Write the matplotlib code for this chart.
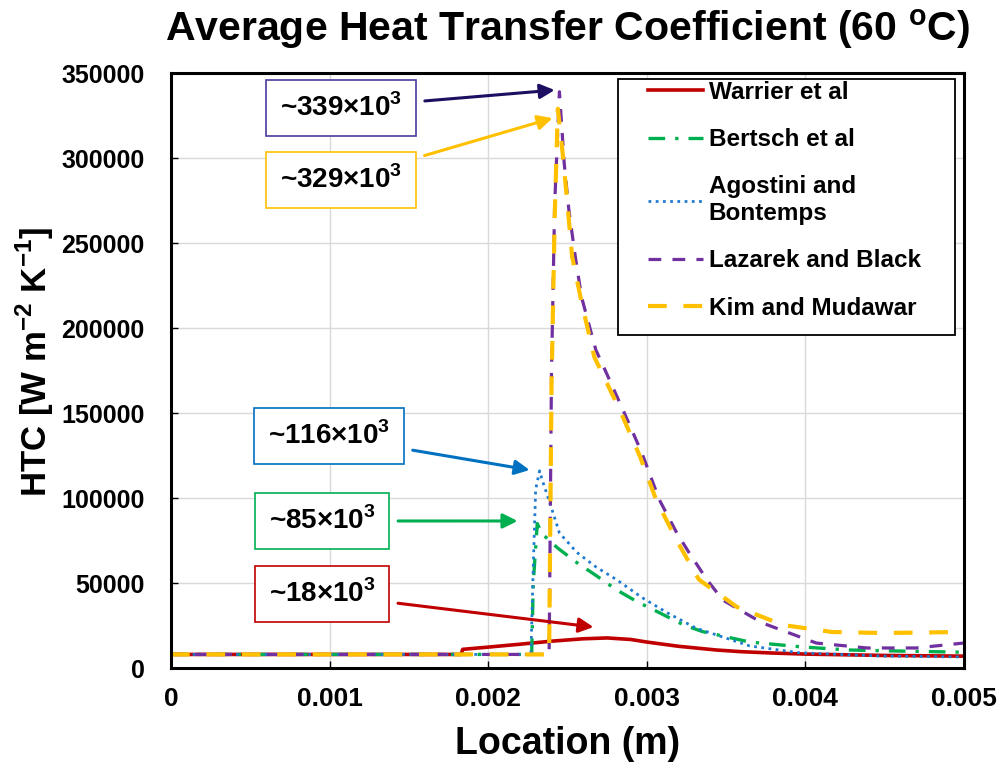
import matplotlib
matplotlib.use('Agg')
import matplotlib.pyplot as plt
from matplotlib.patches import Rectangle

plt.rcParams['font.family'] = ['Liberation Sans', 'DejaVu Sans']
plt.rcParams['font.weight'] = 'bold'
plt.rcParams['axes.labelweight'] = 'bold'
plt.rcParams['mathtext.fontset'] = 'custom'
plt.rcParams['mathtext.rm'] = 'Liberation Sans:bold'
plt.rcParams['mathtext.bf'] = 'Liberation Sans:bold'

# data (location in m, HTC in W m-2 K-1)
warrier_x = [0, 1.83e-3, 1.84e-3, 2.0e-3, 2.2e-3, 2.4e-3, 2.6e-3, 2.75e-3, 2.9e-3,
             3.0e-3, 3.2e-3, 3.44e-3, 3.6e-3, 3.8e-3, 4.0e-3, 4.5e-3, 5.0e-3]
warrier_y = [8000, 8000, 11000, 12300, 14000, 15800, 17200, 17700, 16800,
             15300, 12800, 10600, 9600, 8800, 8200, 7400, 7000]

bertsch_x = [0, 2.275e-3, 2.285e-3, 2.31e-3, 2.34e-3, 2.44e-3, 2.56e-3, 2.68e-3, 2.81e-3,
             2.94e-3, 3.06e-3, 3.23e-3, 3.35e-3, 3.65e-3, 3.98e-3, 4.28e-3, 4.59e-3, 5.0e-3]
bertsch_y = [8000, 8000, 50000, 85000, 79000, 70500, 62000, 54500, 46000,
             39000, 33500, 25500, 21500, 15300, 12400, 10600, 10000, 9300]

agostini_x = [0, 2.27e-3, 2.285e-3, 2.30e-3, 2.325e-3, 2.34e-3, 2.39e-3, 2.45e-3, 2.56e-3,
              2.68e-3, 2.81e-3, 2.97e-3, 3.13e-3, 3.31e-3, 3.65e-3, 3.96e-3, 4.49e-3, 5.0e-3]
agostini_y = [8000, 8000, 60000, 105000, 116000, 111000, 97000, 79500, 68000,
              59500, 52000, 41500, 32500, 23500, 13000, 9000, 7000, 6500]

lazarek_x = [0, 2.385e-3, 2.40e-3, 2.42e-3, 2.45e-3, 2.48e-3, 2.51e-3, 2.55e-3, 2.59e-3,
             2.68e-3, 2.72e-3, 2.85e-3, 2.97e-3, 3.08e-3, 3.19e-3, 3.27e-3, 3.38e-3,
             3.48e-3, 3.73e-3, 4.07e-3, 4.39e-3, 4.70e-3, 5.0e-3]
lazarek_y = [8000, 8000, 175000, 273000, 339000, 297000, 269000, 242000, 218000,
             187000, 179000, 152000, 126500, 99000, 79500, 67500, 52000,
             40000, 26500, 14700, 11800, 11800, 14700]

kim_x = [0, 2.385e-3, 2.40e-3, 2.42e-3, 2.44e-3, 2.47e-3, 2.50e-3, 2.53e-3, 2.59e-3,
         2.67e-3, 2.83e-3, 2.96e-3, 3.06e-3, 3.19e-3, 3.33e-3, 3.57e-3, 3.86e-3,
         4.17e-3, 4.49e-3, 5.0e-3]
kim_y = [8000, 8000, 165000, 265000, 329000, 303000, 273500, 242000, 215000,
         183000, 152000, 124000, 99000, 75000, 52000, 35900, 25300,
         21200, 20600, 21200]

labels = ['Warrier et al', 'Bertsch et al', 'Agostini and\nBontemps',
          'Lazarek and Black', 'Kim and Mudawar']

# peak callouts: text, point, box centre (figure fraction), box colour, arrow colour
callouts = [
    ('~339×10$^{\\mathbf{3}}$', (2.42e-3, 340000), (0.3397, 0.8596), '#4B3A9E', '#1E0E62'),
    ('~329×10$^{\\mathbf{3}}$', (2.407e-3, 323500), (0.3397, 0.766), '#FFC000', '#FFC000'),
    ('~116×10$^{\\mathbf{3}}$', (2.262e-3, 116500), (0.3277, 0.433), '#0070C0', '#0070C0'),
    ('~85×10$^{\\mathbf{3}}$', (2.186e-3, 86500), (0.3207, 0.3225), '#00B050', '#00B050'),
    ('~18×10$^{\\mathbf{3}}$', (2.665e-3, 24100), (0.3207, 0.2276), '#C00000', '#C00000'),
]

fig = plt.figure(figsize=(10.04, 7.69), dpi=100)
ax = fig.add_axes([0.1703, 0.1313, 0.7896, 0.7737])

ax.plot(warrier_x, warrier_y, color='#C00000', lw=2.6, label=labels[0])
ax.plot(bertsch_x, bertsch_y, color='#00B050', lw=2.4, ls=(0, (5, 3, 1, 3)), label=labels[1])
ax.plot(agostini_x, agostini_y, color='#1F7BD0', lw=2.0, ls=(0, (1, 1.6)), label=labels[2])
ax.plot(lazarek_x, lazarek_y, color='#7030A0', lw=2.3, ls=(0, (4, 3.5)), label=labels[3])
ax.plot(kim_x, kim_y, color='#FFC000', lw=3.0, ls=(0, (4.5, 4)), label=labels[4])

ax.set_xlim(0, 0.005)
ax.set_ylim(0, 350000)
ax.set_xticks([0, 0.001, 0.002, 0.003, 0.004, 0.005])
ax.set_xticklabels(['0', '0.001', '0.002', '0.003', '0.004', '0.005'])
ax.set_yticks(range(0, 350001, 50000))
ax.grid(True, color='#D9D9D9', lw=1.0)
ax.set_axisbelow(True)
for s in ax.spines.values():
    s.set_linewidth(2.2)
ax.tick_params(axis='x', direction='in', length=5, width=1, labelsize=19, pad=14)
ax.tick_params(axis='y', direction='in', length=5, width=1, labelsize=18, pad=19)

ax.set_xlabel('Location (m)', fontsize=27, fontweight='bold')
ax.xaxis.set_label_coords(0.5, -0.097)
ax.set_ylabel('HTC [W m$^{\\mathbf{-2}}$ K$^{\\mathbf{-1}}$]', fontsize=25, fontweight='bold')
ax.yaxis.set_label_coords(-0.145, 0.515)

fig.text(0.5655, 0.962, 'Average Heat Transfer Coefficient (60 $^{\\mathbf{o}}$C)',
         ha='center', va='center', fontsize=29.5, fontweight='bold')

# legend frame drawn separately so the entries can sit inset from its left edge
ax.add_patch(Rectangle((0.5637, 0.5597), 0.425, 0.4302, transform=ax.transAxes,
                       fc='white', ec='black', lw=1.3, zorder=4.5))
leg = ax.legend(loc='upper left', bbox_to_anchor=(0.6015, 0.987), borderaxespad=0,
                borderpad=0, frameon=False, fontsize=17.5, handlelength=2.26,
                handletextpad=0.25, labelspacing=1.0)
leg.set_zorder(5)

for text, xy, pos, ec, ac in callouts:
    ax.annotate(text, xy=xy, xycoords='data', xytext=pos, textcoords='figure fraction',
                ha='center', va='center', fontsize=20,
                bbox=dict(boxstyle='square,pad=0.5', fc='white', ec=ec, lw=1.2),
                arrowprops=dict(arrowstyle='-|>', color=ac, lw=2.2, mutation_scale=22,
                                shrinkA=6, shrinkB=0))

fig.savefig('out.png', dpi=100, facecolor='white')
